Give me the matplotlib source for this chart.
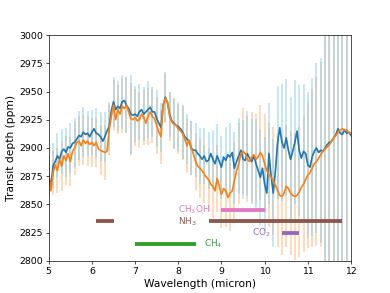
import numpy as np
import matplotlib
matplotlib.use("Agg")
import matplotlib.pyplot as plt

# wavelength grid of the two spectra (micron)
wl = np.round(np.arange(5.0, 12.0001, 0.05), 2)

depth_a = [
    2876, 2866, 2884, 2888, 2893, 2890, 2897, 2899, 2896, 2901,
    2900, 2904, 2905, 2908, 2911, 2910, 2914, 2912, 2913, 2910,
    2914, 2917, 2913, 2912, 2910, 2906, 2910, 2915, 2919, 2933,
    2941, 2934, 2937, 2935, 2941, 2942, 2938, 2935, 2930, 2929,
    2930, 2928, 2932, 2934, 2930, 2932, 2934, 2936, 2932, 2932,
    2926, 2922, 2918, 2938, 2945, 2940, 2930, 2924, 2922, 2920,
    2919, 2917, 2914, 2910, 2908, 2906, 2900, 2898, 2898, 2895,
    2893, 2890, 2893, 2888, 2889, 2895, 2890, 2886, 2893, 2888,
    2883, 2892, 2889, 2894, 2892, 2896, 2882, 2888, 2893, 2898,
    2890, 2889, 2895, 2891, 2888, 2893, 2886, 2880, 2874, 2882,
    2868, 2860, 2895, 2875, 2860, 2880, 2905, 2918, 2905, 2900,
    2909, 2898, 2890, 2897, 2905, 2915, 2898, 2891, 2897, 2895,
    2885, 2883, 2892, 2897, 2900, 2896, 2898, 2897, 2900, 2903,
    2905, 2906, 2909, 2912, 2917, 2913, 2912, 2916, 2913, 2914,
    2911,
]

depth_b = [
    2876, 2862, 2878, 2885, 2880, 2890, 2884, 2893, 2889, 2895,
    2888, 2897, 2900, 2905, 2906, 2902, 2907, 2904, 2906, 2903,
    2905, 2902, 2905, 2899, 2898, 2897, 2896, 2897, 2916, 2928,
    2938, 2925, 2934, 2930, 2937, 2935, 2938, 2932, 2926, 2925,
    2927, 2924, 2925, 2930, 2927, 2922, 2928, 2932, 2928, 2926,
    2920, 2914, 2910, 2938, 2944, 2941, 2928, 2923, 2921, 2920,
    2917, 2915, 2913, 2908, 2902, 2907, 2900, 2895, 2888, 2884,
    2882, 2880, 2877, 2874, 2872, 2868, 2866, 2862, 2873, 2866,
    2859, 2864, 2862, 2856, 2860, 2862, 2871, 2880, 2886, 2895,
    2897, 2895, 2890, 2888, 2892, 2894, 2890, 2892, 2896, 2893,
    2886, 2880, 2876, 2874, 2871, 2867, 2862, 2858, 2857, 2860,
    2866, 2864, 2860, 2858, 2857, 2858, 2861, 2865, 2868, 2872,
    2876, 2878, 2882, 2886, 2888, 2891, 2894, 2897, 2899, 2901,
    2903, 2906, 2909, 2911, 2914, 2916, 2917, 2916, 2916, 2914,
    2913,
]

# 1-sigma errors on every other grid point (5.0 ... 11.9)
err_a = [
    18, 20, 20, 20, 22, 22, 22, 22, 22, 20,
    20, 22, 22, 22, 22, 22, 22, 24, 25, 35,
    25, 25, 24, 25, 22, 25, 22, 22, 20, 22,
    22, 24, 22, 24, 24, 25, 25, 25, 26, 28,
    28, 30, 30, 32, 34, 35, 38, 38, 40, 42,
    42, 45, 48, 50, 52, 52, 55, 55, 58, 60,
    65, 70, 75, 82, 100, 110, 120, 130, 140, 150,
]
err_b = [
    18, 20, 20, 22, 22, 22, 24, 22, 22, 22,
    22, 22, 22, 24, 22, 22, 22, 24, 25, 32,
    25, 25, 24, 25, 24, 25, 24, 22, 22, 22,
    22, 24, 24, 24, 25, 26, 26, 28, 28, 30,
    30, 32, 34, 34, 36, 38, 38, 40, 40, 42,
    44, 46, 48, 50, 52, 54, 55, 56, 58, 60,
    65, 70, 75, 82, 100, 110, 120, 130, 140, 150,
]

# molecular bands: (name, label, colour, ranges, y of bar, label x)
bands = [
    ("CH3OH", "CH$_3$OH", "tab:pink", [(9.0, 10.0)], 2845, 7.99),
    ("NH3", "NH$_3$", "tab:brown", [(6.1, 6.5), (8.7, 11.8)], 2835, 7.99),
    ("CO2", "CO$_2$", "tab:purple", [(10.4, 10.8)], 2825, 9.7),
    ("CH4", "CH$_4$", "tab:green", [(7.0, 8.4)], 2815, 8.6),
]

fig, ax = plt.subplots(figsize=(390 / 61, 293 / 61), dpi=61)

xe = wl[::2][:-1]
ya = np.array(depth_a)[::2][:-1]
yb = np.array(depth_b)[::2][:-1]
ax.errorbar(xe, yb, yerr=err_b, fmt="none", ecolor="C1", alpha=0.3, elinewidth=2.2)
ax.errorbar(xe, ya, yerr=err_a, fmt="none", ecolor="skyblue", alpha=0.5, elinewidth=2.2)
ax.plot(wl, depth_a, color="C0", lw=2)
ax.plot(wl, depth_b, color="C1", lw=2)

for name, lab, col, rngs, yb_, xl in bands:
    for lo, hi in rngs:
        ax.plot([lo, hi], [yb_, yb_], color=col, lw=4.5, solid_capstyle="butt")
    ax.text(xl, yb_, lab, color=col, va="center", ha="left", fontsize=10.5)

ax.set_xlim(5, 12)
ax.set_ylim(2800, 3000)
ax.tick_params(labelsize=11)
ax.set_xlabel("Wavelength (micron)", fontsize=12.5)
ax.set_ylabel("Transit depth (ppm)", fontsize=12.5)

fig.savefig("out.png", dpi=61)
